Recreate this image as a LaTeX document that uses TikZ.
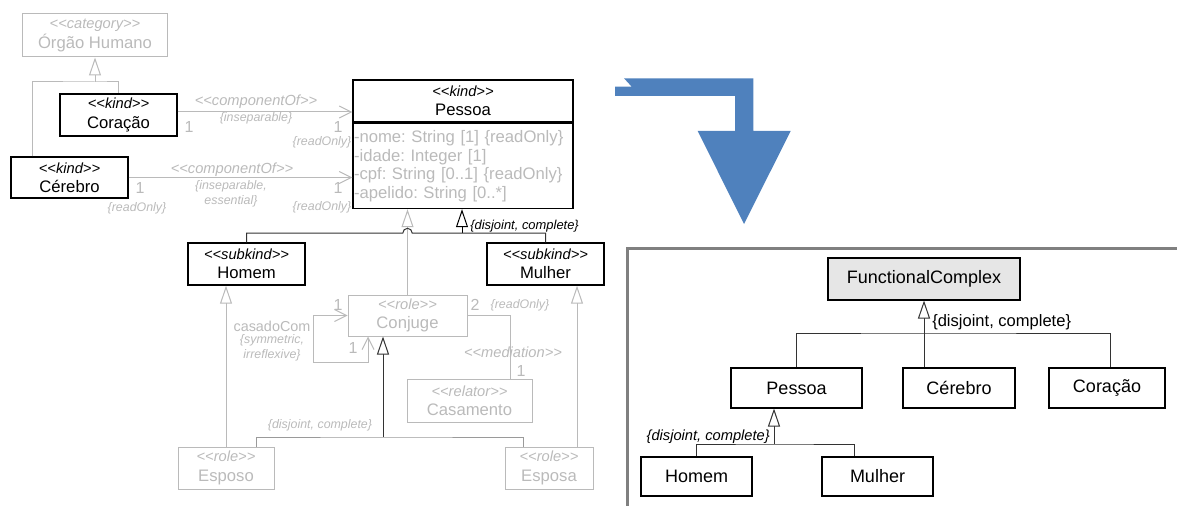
\documentclass[tikz,border=0pt]{standalone}
\usepackage{fontspec}
\setmainfont{Liberation Sans}
\usetikzlibrary{arrows.meta}

\definecolor{umlgrey}{HTML}{BABABA}
\definecolor{midgrey}{HTML}{9A9A9A}
\definecolor{darkline}{HTML}{333333}
\definecolor{framegrey}{HTML}{808080}
\definecolor{shapeblue}{HTML}{4F81BD}
\definecolor{abstractfill}{HTML}{E6E6E6}

\newcommand\stereo[1]{{\fontsize{11}{12}\selectfont\itshape <{}<#1>{}>}}
\frenchspacing

\begin{document}
\begin{tikzpicture}[
  x=0.75pt, y=-0.75pt,
  every node/.style={font=\fontsize{12.5}{14.5}\selectfont, inner sep=0pt},
  boxsize/.style 2 args={minimum width=#1, minimum height=#2},
  kindbox/.style={draw, line width=1.1pt, align=center},
  greybox/.style={draw=umlgrey, text=umlgrey, line width=0.75pt, align=center},
  plainbox/.style={draw, line width=0.8pt, font=\fontsize{13.5}{16}\selectfont},
  constr/.style={text=umlgrey, font=\fontsize{9.3}{11.25}\selectfont\itshape, align=center},
  mult/.style={text=umlgrey, font=\fontsize{12}{14}\selectfont},
  greyline/.style={draw=umlgrey, line width=0.75pt},
  gen/.style={-{Triangle[fill=white, length=13.5pt, width=9pt]}},
  nav/.style={-{Straight Barb[length=9pt, width=9pt]}},
  navboth/.style={{Straight Barb[length=9pt, width=9pt]}-{Straight Barb[length=9pt, width=9pt]}}
]
\useasboundingbox (0,0) rectangle (1177,506);

\node[greybox, boxsize={108.75pt}{32.25pt}] (organ) at (95,35.5) {\stereo{category}\\Órgão Humano};
\node[kindbox, boxsize={87.75pt}{31.5pt}] (heart) at (118.5,115) {\stereo{kind}\\Coração};
\node[kindbox, boxsize={87.75pt}{30.75pt}] (brain) at (69.5,177.5) {\stereo{kind}\\Cérebro};
\node[kindbox, boxsize={165pt}{31.5pt}] (person) at (463,101) {\stereo{kind}\\Pessoa};
\node[draw, line width=1.1pt, anchor=north, text=umlgrey, align=left, text width=163.5pt,
  inner xsep=0.75pt, minimum height=63.75pt, font=\fontsize{12.5}{13.9}\selectfont]
  (personattr) at (person.south)
  {-nome: String [1] \{readOnly\}\\-idade: Integer [1]\\-cpf: String [0..1] \{readOnly\}\\-apelido: String [0..*]};
\node[kindbox, boxsize={87.75pt}{31.5pt}] (man) at (246.5,264) {\stereo{subkind}\\Homem};
\node[kindbox, boxsize={87.75pt}{31.5pt}] (woman) at (545.5,264) {\stereo{subkind}\\Mulher};
\node[greybox, boxsize={89.25pt}{30.75pt}] (spouse) at (407.5,315.5) {\stereo{role}\\Conjuge};
\node[greybox, boxsize={93.75pt}{32.25pt}] (marriage) at (469.5,400.5) {\stereo{relator}\\Casamento};
\node[greybox, boxsize={72pt}{31.5pt}] (husband) at (226,468) {\stereo{role}\\Esposo};
\node[greybox, boxsize={66pt}{31.5pt}] (wife) at (549,468) {\stereo{role}\\Esposa};

\coordinate (organjoin) at (95,82);
\draw[greyline, gen] (organjoin) -- (organ.south);
\draw[greyline] ([xshift=16.5pt]brain.north west) |- (organjoin) -| (heart.north);

\draw[greyline, nav] ([yshift=2.25pt]heart.east) -- ([yshift=2.25pt]heart.east -| person.west);
\node[text=umlgrey] at (256,102) {\stereo{componentOf}};
\node[constr] at (256,118) {\{inseparable\}};
\node[mult] at (189,127) {1};
\node[mult] at (338,127) {1};
\node[constr] at (322,142) {\{readOnly\}};

\draw[greyline, nav] (brain.east) -- (brain.east -| personattr.west);
\node[text=umlgrey] at (232,170) {\stereo{componentOf}};
\node[constr] at (231,193.5) {\{inseparable,\\essential\}};
\node[mult] at (140,188) {1};
\node[constr] at (137,208) {\{readOnly\}};
\node[mult] at (338,188) {1};
\node[constr] at (322,207) {\{readOnly\}};

\draw[greyline, gen] (spouse.north) -- (spouse.north |- personattr.south);
\coordinate (kindjoin) at (462,233);
\draw[line width=0.75pt, gen] (kindjoin) -- (kindjoin |- personattr.south);
\draw[darkline, line width=0.75pt] (man.north) |- ([xshift=-3.5pt]spouse.north |- kindjoin)
  arc[start angle=180, end angle=0, radius=3.5pt] -| (woman.north);
\node[anchor=west, font=\fontsize{9.7}{11}\selectfont\itshape] at (470,226) {\{disjoint, complete\}};

\draw[greyline, gen] (husband.north) -- (husband.north |- man.south);
\draw[greyline, gen] ([xshift=21pt]wife.north) -- ([xshift=21pt]wife.north |- woman.south);

\coordinate (rolejoin) at (383,437);
\draw[darkline, line width=0.75pt, gen] (rolejoin) -- (rolejoin |- spouse.south);
\draw[midgrey, line width=0.75pt] ([xshift=22.5pt]husband.north) |- (rolejoin) -| ([xshift=-19.5pt]wife.north);
\node[constr] at (320,425) {\{disjoint, complete\}};

\coordinate (loopcorner) at (313,362);
\draw[greyline, navboth] (spouse.west) -| (loopcorner) -| ([xshift=-29.6pt]spouse.south);
\node[mult] at (338,305) {1};
\node[mult] at (353,348) {1};
\node[text=umlgrey, font=\fontsize{10.8}{13}\selectfont] at (272,326) {casadoCom};
\node[constr] at (272,348) {\{symmetric,\\irreflexive\}};

\draw[greyline] (spouse.east) -| ([xshift=31pt]marriage.north);
\node[mult] at (475,305) {2};
\node[constr] at (520,305) {\{readOnly\}};
\node[text=umlgrey] at (513,352) {\stereo{mediation}};
\node[mult] at (521,371) {1};

\fill[shapeblue] (615,86.7) -- (631.7,86.7) -- (624,78.3) -- (753.3,78.3) -- (753.3,131)
  -- (790.7,131) -- (744,224) -- (697.7,131) -- (735,131) -- (735,96) -- (615,96) -- cycle;

\draw[framegrey, line width=2.25pt] (1180,248.5) -| (627.5,510);

\node[plainbox, fill=abstractfill, boxsize={144pt}{31.5pt}] (fc) at (924,279) {FunctionalComplex};
\node[plainbox, boxsize={98.25pt}{30pt}] (rperson) at (796.5,388) {Pessoa};
\node[plainbox, boxsize={84pt}{30pt}] (rbrain) at (959,388) {Cérebro};
\node[plainbox, boxsize={87pt}{30pt}] (rheart) at (1107,388) {Coração};
\node[plainbox, boxsize={83.25pt}{29.25pt}] (rman) at (696.5,476.5) {Homem};
\node[plainbox, boxsize={83.25pt}{29.25pt}] (rwoman) at (877.5,476.5) {Mulher};

\coordinate (fcjoin) at (924,333);
\draw[darkline, line width=0.75pt, gen] (fcjoin) -- (fc.south);
\draw[darkline, line width=0.75pt] (rperson.north) |- (fcjoin) -| ([xshift=2.25pt]rheart.north);
\draw[darkline, line width=0.75pt] (fcjoin) -- (fcjoin |- rbrain.north);
\node[anchor=west, font=\fontsize{12.4}{14}\selectfont] at (932,322) {\{disjoint, complete\}};

\coordinate (rpersonjoin) at (774,444);
\draw[darkline, line width=0.75pt, gen] (rpersonjoin) -- (rpersonjoin |- rperson.south);
\draw[darkline, line width=0.75pt] (rman.north) |- (rpersonjoin) -| ([xshift=-17.6pt]rwoman.north);
\node[anchor=east, font=\fontsize{11}{13}\selectfont\itshape] at (770,437) {\{disjoint, complete\}};
\end{tikzpicture}
\end{document}
